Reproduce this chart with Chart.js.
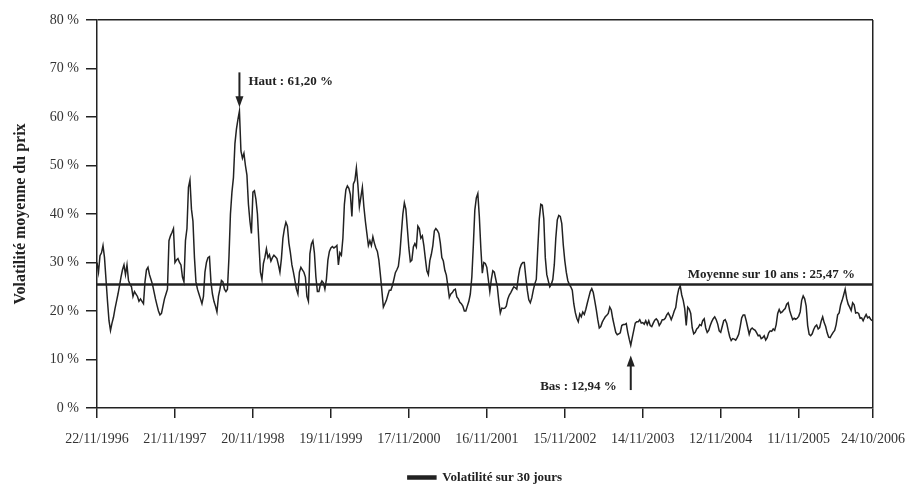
<!DOCTYPE html>
<html>
<head>
<meta charset="utf-8">
<script src="https://cdn.jsdelivr.net/npm/chart.js@4.4.1/dist/chart.umd.min.js"></script>
<style>
  html, body { margin: 0; padding: 0; background: #fff; }
  #wrap { width: 907px; height: 484px; }
</style>
</head>
<body>
<div id="wrap"><canvas id="volChart"></canvas></div>
<script>
// x axis ticks: days since 22/11/1996
const tickDays = [0, 364, 728, 1092, 1456, 1820, 2184, 2548, 2912, 3276, 3623];
const tickLabels = ['22/11/1996', '21/11/1997', '20/11/1998', '19/11/1999', '17/11/2000',
    '16/11/2001', '15/11/2002', '14/11/2003', '12/11/2004', '11/11/2005', '24/10/2006'];
const yTicks = [0, 10, 20, 30, 40, 50, 60, 70, 80];

// weekly readings of the 30-day volatility (%), one row per year
const vol = [
    30, 28, 31.4, 32, 33.5, 31, 26.5, 22, 18, 16, 17.5, 18.7, 20.5, 22, 23.5, 25.2, 27, 28.5, 29.5, 27.5,
    29.5, 26.3, 25.5, 25, 23, 24, 23.5, 23, 22, 22.5, 22, 21.5, 26, 28.5, 29, 27.5, 26.5, 25.5, 24, 22.5,
    21.2, 20, 19.2, 19.5, 21, 22.5, 23.5, 24.5, 34.5, 35.5, 36.2, 37,
    30, 30.5, 30.8, 30, 29.5, 27, 26, 34.5, 37, 45.5, 47, 41, 38.5, 31, 26, 24.5, 23.5, 22.5, 21.5, 23,
    28, 30, 31, 31.2, 26, 23.5, 22, 21, 19.8, 23, 24.5, 26.3, 26, 24.5, 24, 24.5, 31, 40, 44.5, 47.5,
    54.5, 57.5, 59.5, 61.2, 53, 51.5, 52.5, 50, 48, 42, 38.5, 36,
    44.5, 44.8, 43, 40, 34, 28, 26.5, 29.8, 31.1, 32.8, 31, 31.6, 30.3, 31, 31.5, 31.2, 30.8, 29.5, 28, 30.8,
    35, 37, 38.3, 37.5, 34, 32, 29.5, 28, 26.3, 24.5, 23.5, 28, 29, 28.5, 28, 27, 23, 22, 31.8, 33.8,
    34.5, 32, 27, 24, 24, 25.5, 26.2, 25.8, 24.5, 26.5, 30.5, 32.3,
    33, 33.3, 33, 33.2, 33.5, 29.5, 32, 31.5, 35, 42, 45, 45.8, 45.3, 44, 39.5, 46.2, 46.9, 49.5, 46, 41.5,
    43.5, 45.5, 41.5, 38.5, 36, 33.5, 34.5, 33.5, 35.3, 34, 33, 32.3, 30.5, 27.5, 24.2, 20.8, 21.5, 22.2, 23.3, 24.3,
    24.3, 25.2, 26.5, 27.9, 28.5, 29.2, 31.8, 36, 40, 42.3, 41, 37,
    33, 30.2, 30.5, 33.2, 33.9, 33.2, 37.5, 37, 35, 35.5, 33.5, 30.8, 28.3, 27.5, 30.4, 31.7, 33.5, 36.5, 37, 36.6,
    36, 34, 31, 30.3, 28.4, 27.4, 25.2, 22.8, 23.5, 23.8, 24.3, 24.5, 22.9, 22.5, 21.8, 21.5, 21, 20, 20, 21,
    22, 23.5, 27, 33.5, 40.8, 43.3, 44.2, 39.5, 33, 27.8, 30, 29.8,
    29, 26.5, 24, 26.5, 28.3, 28, 26.5, 25, 22, 19.6, 20.6, 20.5, 20.6, 21, 22.5, 23.3, 23.8, 24.4, 25, 24.8,
    24.5, 27, 28.7, 29.6, 30, 30, 27, 24.3, 22.3, 21.7, 22.7, 24.3, 25.6, 26.5, 33, 39, 42, 41.8, 39, 31,
    27.5, 26.2, 25, 25.5, 26.5, 29.5, 35, 38.8, 39.7, 39.5, 38, 33.6,
    30.4, 28, 26.3, 25.5, 25, 24.3, 21.5, 19.7, 18.5, 17.8, 19.4, 18.8, 19.8, 19.3, 20.3, 21.6, 22.8, 24, 24.6, 23.8,
    22.1, 20.3, 18.2, 16.5, 16.8, 17.7, 18.3, 18.8, 19.1, 19.5, 20.8, 20.2, 18.4, 17, 15.6, 15.1, 15.3, 15.5, 17, 17.2,
    17.2, 17.4, 15.6, 14.2, 12.94, 14.5, 16, 17.5, 17.8, 17.8, 18.2, 17.5,
    17.6, 17.3, 18, 17.2, 18, 17, 16.8, 17.5, 18.1, 18.4, 18, 17, 17.5, 18.2, 18.2, 18.5, 19.2, 19.6, 19, 18.2,
    19, 20, 20.7, 23, 24.5, 25.2, 23.3, 22.2, 20.5, 17, 20.8, 20.4, 19.5, 16.5, 15.3, 15.6, 16.3, 16.6, 17.2, 17,
    18, 18.4, 16.5, 15.6, 16, 17, 17.8, 18.4, 18.8, 18.2, 17.3, 15.9,
    15.6, 16.8, 18, 18.2, 17.5, 16, 14.7, 13.9, 14.3, 14.2, 14, 14.5, 15.2, 16.8, 18.6, 19.2, 19.2, 18, 16.6, 15.2,
    16.2, 16.5, 16.2, 16, 15.5, 14.9, 15, 14.3, 14.5, 14.9, 14, 14.5, 15.5, 15.9, 15.8, 16.3, 16, 17.2, 19.5, 20.3,
    19.6, 19.8, 20.2, 20.5, 21.4, 21.7, 20.1, 19.1, 18.2, 18.5, 18.3, 18.5,
    18.9, 19.8, 22.2, 23.1, 22.5, 21, 17, 15.2, 14.9, 15.3, 16.2, 16.8, 17.1, 16.3, 16.6, 17.9, 18.8, 17.6, 16.8, 15.5,
    14.6, 14.5, 15.1, 15.6, 16, 17.2, 19.2, 19.6, 21.3, 22.2, 23.3, 24.5, 22.6, 21.4, 20.8, 20.1, 21.7, 21.3, 19.6, 19.7,
    19.5, 18.5, 18.6, 18, 18.7, 19.3, 18.6, 18.8, 18.3, 18
];
const stepDays = 7;
const mean10y = 25.47;

const fr = v => v.toFixed(2).replace('.', ',') + ' %';
const peakIdx = vol.indexOf(Math.max(...vol));
const lowIdx = vol.indexOf(Math.min(...vol));

const serif = '"Liberation Serif", "Times New Roman", serif';
const ink = '#222';

// arrows and texts for the high, the low and the mean
const notes = {
    id: 'notes',
    afterDatasetsDraw(chart) {
        const { ctx, chartArea } = chart;
        const x = chart.scales.x, y = chart.scales.y;
        ctx.save();
        ctx.fillStyle = ink;
        ctx.strokeStyle = ink;
        ctx.font = 'bold 13px ' + serif;
        ctx.textBaseline = 'middle';

        const arrow = (px, fromY, toY) => {
            const dir = toY > fromY ? 1 : -1;
            ctx.lineWidth = 2;
            ctx.beginPath();
            ctx.moveTo(px, fromY);
            ctx.lineTo(px, toY - dir * 10);
            ctx.stroke();
            ctx.beginPath();
            ctx.moveTo(px - 4, toY - dir * 11);
            ctx.lineTo(px + 4, toY - dir * 11);
            ctx.lineTo(px, toY);
            ctx.closePath();
            ctx.fill();
        };

        const hx = x.getPixelForValue(peakIdx * stepDays);
        arrow(hx, y.getPixelForValue(69.2), y.getPixelForValue(62.0));
        ctx.textAlign = 'left';
        ctx.fillText('Haut : ' + fr(vol[peakIdx]), hx + 9, y.getPixelForValue(67.3));

        const lx = x.getPixelForValue(lowIdx * stepDays);
        arrow(lx, y.getPixelForValue(3.7), y.getPixelForValue(10.8));
        ctx.textAlign = 'right';
        ctx.fillText('Bas : ' + fr(vol[lowIdx]), lx - 14, y.getPixelForValue(4.4));

        ctx.fillText('Moyenne sur 10 ans : ' + fr(mean10y), chartArea.right - 18, y.getPixelForValue(27.5));
        ctx.restore();
    }
};

const ctxVol = document.getElementById('volChart').getContext('2d');
const volChart = new Chart(ctxVol, {
    type: 'line',
    data: {
        datasets: [{
            label: 'Volatilité sur 30 jours',
            data: vol.map((v, i) => ({ x: i * stepDays, y: v })),
            borderColor: ink,
            backgroundColor: ink,
            borderWidth: 1.5,
            pointRadius: 0,
            tension: 0
        }, {
            label: 'Moyenne',
            data: [{ x: tickDays[0], y: mean10y }, { x: tickDays[tickDays.length - 1], y: mean10y }],
            borderColor: ink,
            borderWidth: 2.6,
            pointRadius: 0
        }]
    },
    options: {
        responsive: true,
        maintainAspectRatio: false,
        animation: false,
        layout: { padding: { top: 20, right: 34, left: 0, bottom: -10 } },
        plugins: {
            legend: {
                position: 'bottom',
                fullSize: false,
                labels: {
                    filter: item => item.datasetIndex === 0,
                    boxWidth: 28,
                    boxHeight: 3,
                    padding: 0,
                    color: ink,
                    font: { family: serif, size: 13, weight: 'bold' }
                }
            },
            tooltip: { enabled: false }
        },
        scales: {
            x: {
                type: 'linear',
                min: tickDays[0],
                max: tickDays[tickDays.length - 1],
                afterBuildTicks: s => { s.ticks = tickDays.map(v => ({ value: v })); },
                afterFit: s => { s.height = 63; s.paddingLeft = 0; s.paddingRight = 0; },
                border: { display: true, color: ink, width: 1.5 },
                grid: {
                    color: c => (c.tick && c.tick.value === tickDays[tickDays.length - 1]) ? ink : 'transparent',
                    tickColor: ink,
                    tickLength: 10,
                    lineWidth: 1.5
                },
                ticks: {
                    autoSkip: false,
                    maxRotation: 0,
                    padding: 13,
                    color: '#333',
                    font: { family: serif, size: 14 },
                    callback: v => tickLabels[tickDays.indexOf(v)]
                }
            },
            y: {
                min: 0,
                max: 80,
                afterBuildTicks: s => { s.ticks = yTicks.map(v => ({ value: v })); },
                afterFit: s => { s.width = 97; s.paddingTop = 0; s.paddingBottom = 0; },
                border: { display: true, color: ink, width: 1.5 },
                grid: {
                    color: c => (c.tick && c.tick.value === 80) ? ink : 'transparent',
                    tickColor: ink,
                    tickLength: 11,
                    lineWidth: 1.5
                },
                ticks: {
                    padding: 7,
                    color: '#333',
                    font: { family: serif, size: 14 },
                    callback: v => v + ' %'
                },
                title: {
                    display: true,
                    text: 'Volatilité moyenne du prix',
                    color: ink,
                    padding: { top: 11, bottom: 0 },
                    font: { family: serif, size: 16, weight: 'bold' }
                }
            }
        }
    },
    plugins: [notes]
});
</script>
</body>
</html>
